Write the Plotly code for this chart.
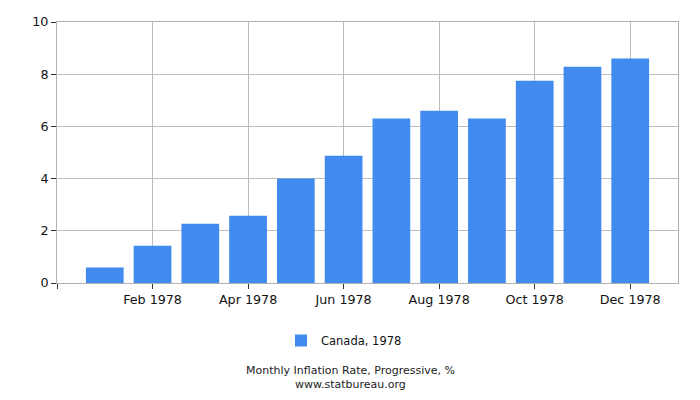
import plotly.graph_objects as go

months = ["Jan 1978", "Feb 1978", "Mar 1978", "Apr 1978", "May 1978", "Jun 1978",
          "Jul 1978", "Aug 1978", "Sep 1978", "Oct 1978", "Nov 1978", "Dec 1978"]
values = [0.59, 1.43, 2.27, 2.58, 4.00, 4.88, 6.30, 6.60, 6.30, 7.75, 8.29, 8.60]
tick_labels = ["", "Feb 1978", "Apr 1978", "Jun 1978", "Aug 1978", "Oct 1978", "Dec 1978"]
y_ticks = [0, 2, 4, 6, 8, 10]

xpos = list(range(len(months)))
tickvals = [-1] + [i for i in xpos if i % 2 == 1]

W, H = 700, 400
ML, MR, MT, MB = 57, 22, 22, 117
plot_w, plot_h = W - ML - MR, H - MT - MB

def px_to_paper_y(py):
    return (MT + plot_h - py) / plot_h

def px_to_paper_x(px):
    return (px - ML) / plot_w

fig = go.Figure()
fig.add_trace(go.Bar(
    x=xpos, y=values, name="Canada, 1978", width=0.79,
    marker=dict(color="#418BEF", line=dict(width=0)),
    hovertext=months,
))

font = "DejaVu Sans, Verdana, sans-serif"
fig.update_layout(
    width=W, height=H,
    margin=dict(l=ML, r=MR, t=MT, b=MB),
    paper_bgcolor="white", plot_bgcolor="white",
    font=dict(family=font, size=12, color="#222222"),
    showlegend=True,
    legend=dict(orientation="h", x=px_to_paper_x(281), xanchor="left",
                y=px_to_paper_y(326), yanchor="top",
                font=dict(size=11.5, color="#111111"), itemwidth=30),
    xaxis=dict(
        range=[-1, 12], tickvals=tickvals, ticktext=tick_labels,
        showgrid=True, gridcolor="#bdbdbd", gridwidth=1,
        showline=True, linecolor="#b0b0b0", linewidth=1, mirror=True,
        ticks="outside", ticklen=5, tickcolor="#333333",
        tickfont=dict(size=12.7, color="#111111"), zeroline=False,
    ),
    yaxis=dict(
        range=[0, 10], tickvals=y_ticks,
        showgrid=True, gridcolor="#bdbdbd", gridwidth=1,
        showline=True, linecolor="#b0b0b0", linewidth=1, mirror=True,
        ticks="outside", ticklen=5, tickcolor="#333333",
        tickfont=dict(size=12.7, color="#111111"), zeroline=False,
    ),
    annotations=[
        dict(text="Monthly Inflation Rate, Progressive, %", x=px_to_paper_x(350), xref="paper",
             xanchor="center", y=px_to_paper_y(370), yref="paper", yanchor="middle",
             showarrow=False, font=dict(size=11, color="#222222")),
        dict(text="www.statbureau.org", x=px_to_paper_x(350), xref="paper",
             xanchor="center", y=px_to_paper_y(384), yref="paper", yanchor="middle",
             showarrow=False, font=dict(size=11, color="#222222")),
    ],
)

fig.write_html("out.html", config={"displayModeBar": False},
               post_script="document.body.style.margin='0';")
